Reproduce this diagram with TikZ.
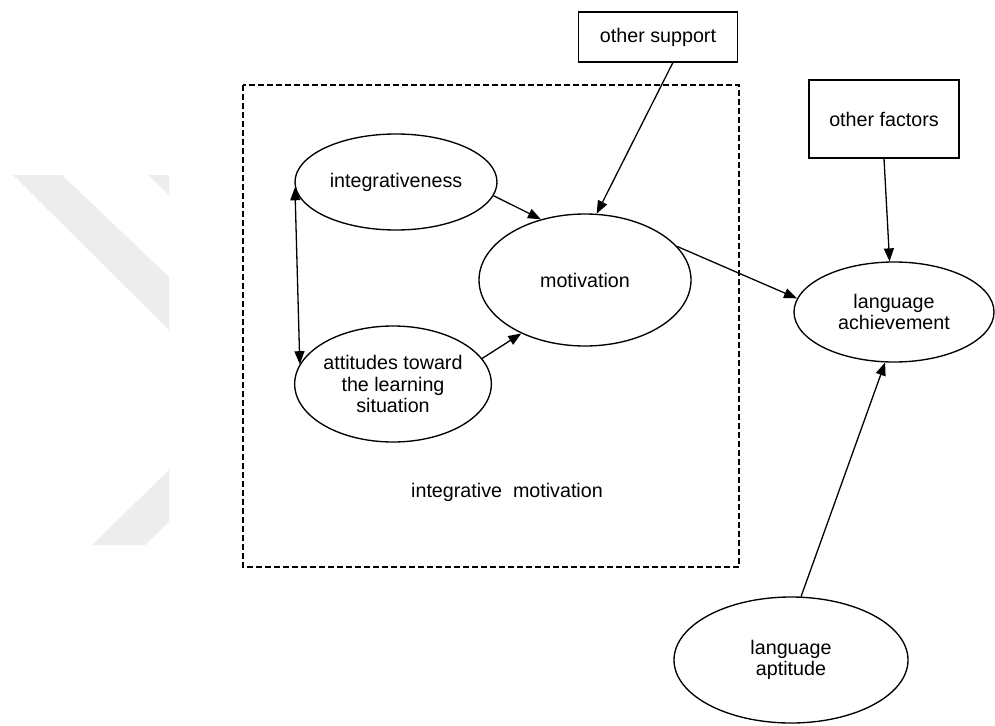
\documentclass[tikz,border=0pt]{standalone}
\usepackage{fontspec}
\setmainfont{Liberation Sans}
\usetikzlibrary{shapes.geometric,arrows.meta}
\begin{document}
\begin{tikzpicture}[x=1pt,y=-1pt,
  every node/.style={font=\fontsize{19.7}{21.5}\selectfont, align=center, inner sep=0pt},
  oval/.style={draw, line width=1.35pt, ellipse},
  sqbox/.style={draw, line width=1.35pt, rectangle},
  conn/.style={line width=1.3pt, -{Triangle[length=13pt,width=10pt]}},
  bothconn/.style={line width=1.3pt, {Triangle[length=13pt,width=10pt]}-{Triangle[length=13pt,width=10pt]}},
  wmark/.style={fill=black!7, draw=none},
  groupbox/.style={draw, line width=1.2pt, dash pattern=on 6pt off 3pt}]
\useasboundingbox (0,0) rectangle (995,725);
% watermark
\fill[wmark] (13,175) -- (62,175) -- (169,277) -- (169,330) -- cycle;
\fill[wmark] (148,175) -- (169,175) -- (169,195) -- cycle;
\fill[wmark] (92,545) -- (145,545) -- (169,522) -- (169,470) -- cycle;
% group box
\draw[groupbox] (243,85) rectangle (739,567);
\node (lbl) at (507,492) {integrative\ \ motivation};
% nodes
\node[oval, minimum width=202pt, minimum height=96pt] (int) at (396,182) {integrativeness};
\node[oval, minimum width=212pt, minimum height=132pt] (mot) at (585,280) {motivation};
\node[oval, minimum width=196pt, minimum height=116pt] (att) at (393,384) {attitudes toward\\the learning\\situation};
\node[sqbox, minimum width=159pt, minimum height=50pt] (os) at (658,37) {other support};
\node[sqbox, minimum width=150pt, minimum height=78pt] (of) at (884,119) {other factors};
\node[oval, minimum width=200pt, minimum height=100pt] (ach) at (894,312) {language\\achievement};
\node[oval, minimum width=234pt, minimum height=126pt] (apt) at (791,660) {language\\aptitude};
% connectors
\draw[conn] (int.-8) -- (mot.126);
\draw[conn] (att.16) -- (mot.220);
\draw[bothconn] (int.183) -- (att.168);
\draw[conn] (os.-60) -- (mot.80);
\draw[conn] (mot.20) -- (ach.172);
\draw[conn] (of.south) -- (ach.95);
\draw[conn] (apt.81) -- (ach.260);
\end{tikzpicture}
\end{document}
